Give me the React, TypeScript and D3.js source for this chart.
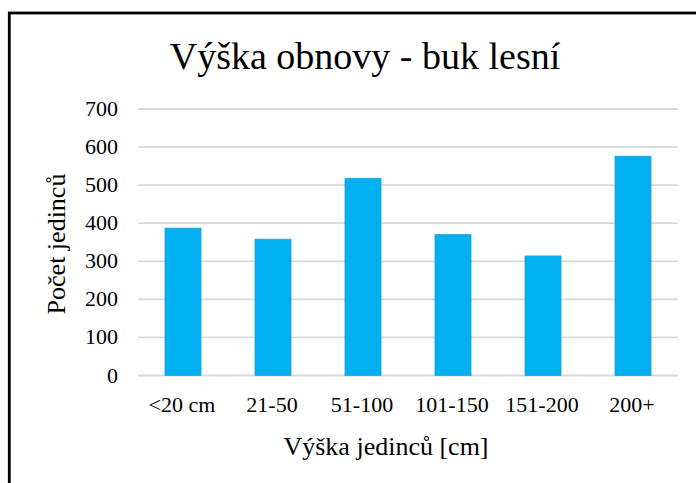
import React from "react";
import * as d3 from "d3";

const categories = ["<20 cm", "21-50", "51-100", "101-150", "151-200", "200+"];
const values = [387, 358, 518, 370, 314, 576];
const yTicks = [0, 100, 200, 300, 400, 500, 600, 700];
const title = "Výška obnovy - buk lesní";
const xTitle = "Výška jedinců [cm]";
const yTitle = "Počet jedinců";

const W = 696;
const H = 483;
const FONT = "'Liberation Serif', 'Times New Roman', serif";

export default function App() {
  const x = d3
    .scaleBand<string>()
    .domain(categories)
    .range([138, 678])
    .paddingInner(0.6)
    .paddingOuter(0.3);
  const y = d3.scaleLinear().domain([0, 700]).range([375.5, 109]);

  return (
    <svg
      width={W}
      height={H}
      style={{ position: "absolute", left: 0, top: 0, background: "#fff" }}
      fontFamily={FONT}
    >
      <rect x={0} y={0} width={W} height={H} fill="#fff" />
      <rect x={9.3} y={13} width={900} height={700} fill="none" stroke="#000" strokeWidth={2.8} />
      <text x={365} y={69} textAnchor="middle" fontSize={38} fill="#000">
        {title}
      </text>
      {yTicks.map((t) => (
        <g key={t}>
          <line x1={138} x2={678} y1={y(t)} y2={y(t)} stroke="#d9d9d9" strokeWidth={1.8} />
          <text x={118} y={y(t) + 7} textAnchor="end" fontSize={22} fill="#000">
            {t}
          </text>
        </g>
      ))}
      {categories.map((c, i) => (
        <rect
          key={c}
          x={x(c)}
          y={y(values[i])}
          width={x.bandwidth()}
          height={y(0) - y(values[i])}
          fill="#00b0f0"
          stroke="#1aa3dc"
          strokeWidth={0.8}
        />
      ))}
      {categories.map((c) => (
        <text
          key={c}
          x={(x(c) as number) + x.bandwidth() / 2 - 1}
          y={412}
          textAnchor="middle"
          fontSize={22}
          fill="#000"
        >
          {c}
        </text>
      ))}
      <text x={386} y={455} textAnchor="middle" fontSize={26} fill="#000">
        {xTitle}
      </text>
      <text
        transform={`translate(65,244) rotate(-90)`}
        textAnchor="middle"
        fontSize={26}
        fill="#000"
      >
        {yTitle}
      </text>
    </svg>
  );
}
